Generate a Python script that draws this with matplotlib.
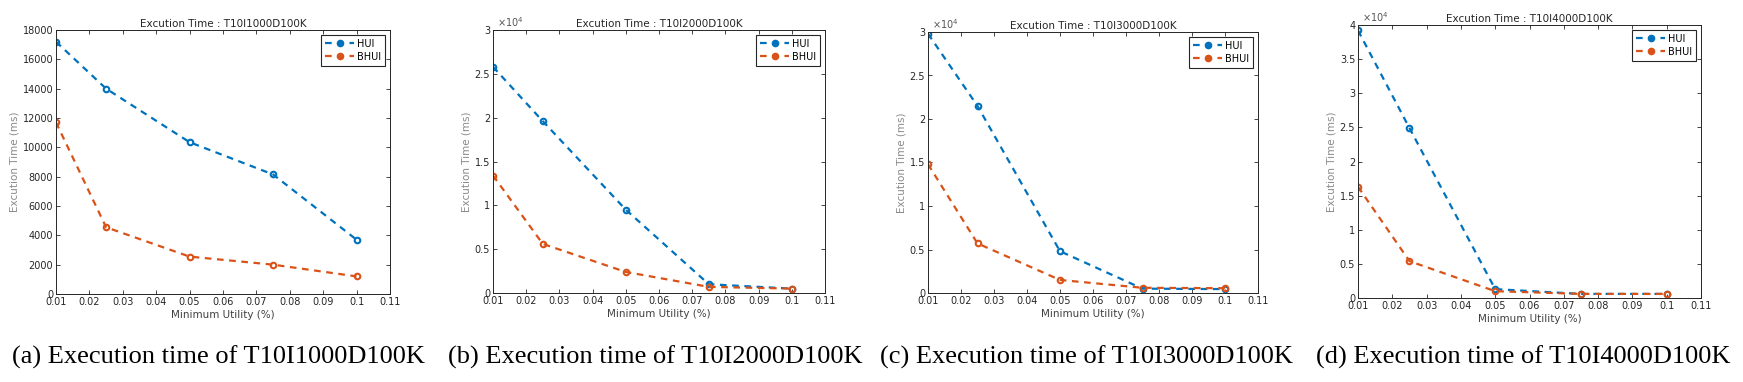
import numpy as np
import matplotlib
matplotlib.use("Agg")
import matplotlib.pyplot as plt
from matplotlib.ticker import FuncFormatter

# Minimum utility thresholds (%)
min_util = [0.01, 0.025, 0.05, 0.075, 0.1]

# Execution times (ms)
hui_1000 = [17200, 14000, 10350, 8150, 3700]
bhui_1000 = [11700, 4550, 2550, 2000, 1200]
hui_2000 = [25800, 19600, 9500, 1000, 500]
bhui_2000 = [13400, 5600, 2400, 700, 500]
hui_3000 = [29800, 21500, 4800, 500, 450]
bhui_3000 = [14800, 5700, 1500, 600, 550]
hui_4000 = [39200, 24900, 1300, 600, 600]
bhui_4000 = [16300, 5400, 1000, 600, 600]

datasets = ["T10I1000D100K", "T10I2000D100K", "T10I3000D100K", "T10I4000D100K"]
letters = ["a", "b", "c", "d"]
ymax = [18000, 30000, 30000, 40000]
ystep = [2000, 5000, 5000, 5000]

BLUE = "#0072BD"
ORANGE = "#D95319"

W, H = 1743, 382
# axes boxes in pixels: left, top, right, bottom
boxes = [(56, 30, 390, 294), (493, 30, 825, 293),
         (928, 32, 1258, 293), (1358, 25, 1701, 298)]
cap_x = [218, 655, 1086, 1523]

fig = plt.figure(figsize=(W / 100, H / 100), dpi=100)

series = [(hui_1000, bhui_1000), (hui_2000, bhui_2000),
          (hui_3000, bhui_3000), (hui_4000, bhui_4000)]

for i, (hui, bhui) in enumerate(series):
    l, t, r, b = boxes[i]
    ax = fig.add_axes([l / W, (H - b) / H, (r - l) / W, (b - t) / H])
    ax.plot(min_util, hui, "--o", color=BLUE, lw=1.6, ms=4, mfc="none",
            mew=1.5, dashes=(3, 2.5), label="HUI")
    ax.plot(min_util, bhui, "--o", color=ORANGE, lw=1.6, ms=4, mfc="none",
            mew=1.5, dashes=(3, 2.5), label="BHUI")
    ax.set_xlim(0.01, 0.11)
    ax.set_ylim(0, ymax[i])
    ax.set_xticks(np.arange(0.01, 0.111, 0.01))
    ax.set_yticks(np.arange(0, ymax[i] + 1, ystep[i]))
    ax.xaxis.set_major_formatter(FuncFormatter(lambda v, p: "%g" % round(v, 2)))
    if ymax[i] > 20000:
        ax.yaxis.set_major_formatter(FuncFormatter(lambda v, p: "%g" % (v / 1e4)))
        ax.text(0.012, 1.003, r"$\times10^4$", transform=ax.transAxes,
                fontsize=7, color="#555555", va="bottom")
    else:
        ax.yaxis.set_major_formatter(FuncFormatter(lambda v, p: "%d" % v))
    ax.tick_params(direction="in", top=True, right=True, labelsize=7,
                   length=3, width=0.6, colors="#262626", pad=2)
    for s in ax.spines.values():
        s.set_linewidth(0.7)
        s.set_color("#262626")
    ax.set_title("Excution Time : " + datasets[i], fontsize=7.5, pad=2,
                 color="#262626")
    ax.set_xlabel("Minimum Utility (%)", fontsize=7.5, color="#404040", labelpad=2)
    ax.set_ylabel("Excution Time (ms)", fontsize=7.5, color="#8a8a8a", labelpad=2)
    leg = ax.legend(loc="upper right", fontsize=7, handlelength=3,
                    fancybox=False, framealpha=1, borderpad=0.4,
                    handletextpad=0.3, labelspacing=0.3)
    leg.get_frame().set_edgecolor("#262626")
    leg.get_frame().set_linewidth(0.8)
    for h in leg.legend_handles:
        h.set_markerfacecolor(h.get_color())

    fig.text(cap_x[i] / W, (H - 357) / H,
             "(%s) Execution time of %s" % (letters[i], datasets[i]),
             ha="center", va="center", fontsize=19, family="Liberation Serif")

fig.savefig("out.png", dpi=100)
